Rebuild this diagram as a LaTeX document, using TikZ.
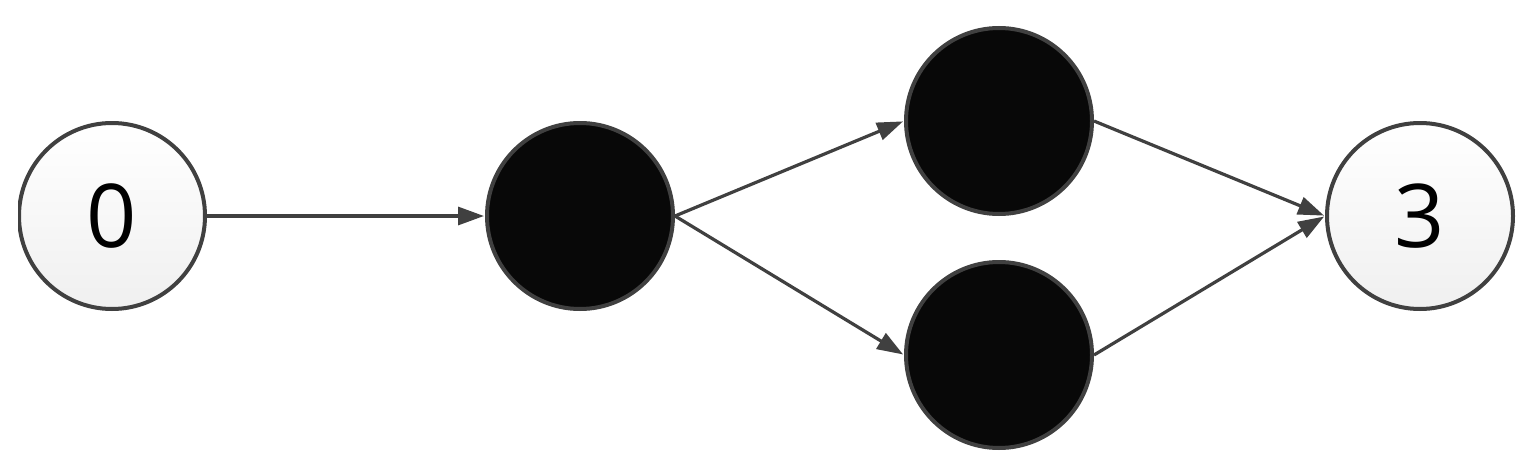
\documentclass[tikz,border=0pt]{standalone}
\usepackage{fontspec}
\setmainfont{Open Sans}
\usetikzlibrary{arrows.meta}
\definecolor{edgegray}{HTML}{404040}
\tikzset{
  lightnode/.style={circle, draw=edgegray, line width=4pt, minimum size=186pt, inner sep=0pt,
    top color=white, bottom color=black!6, font=\fontsize{88}{88}\selectfont},
  darknode/.style={circle, draw=edgegray, line width=4pt, minimum size=186pt, inner sep=0pt, fill=black!97},
  conn/.style={draw=edgegray, line width=3.2pt, -{Triangle[length=26pt,width=18pt]}, shorten >=1pt}
}
\begin{document}
\begin{tikzpicture}[x=1pt,y=-1pt]
\useasboundingbox (0,0) rectangle (1535,463);
\begin{scope}
\clip (18,0) rectangle (1535,463);
\node[lightnode] (n0) at (112,216) {0};
\end{scope}
\node[darknode] (n1) at (580,216) {};
\node[darknode] (n2) at (999,121) {};
\node[darknode] (n4) at (999,355) {};
\node[lightnode] (n3) at (1420,216) {3};
\draw[conn] (n0.east) -- (n1.west);
\draw[conn] (n1.east) -- (n2.west);
\draw[conn] (n1.east) -- (n4.west);
\draw[conn] (n2.east) -- (n3.west);
\draw[conn] (n4.east) -- (n3.west);
\end{tikzpicture}
\end{document}
